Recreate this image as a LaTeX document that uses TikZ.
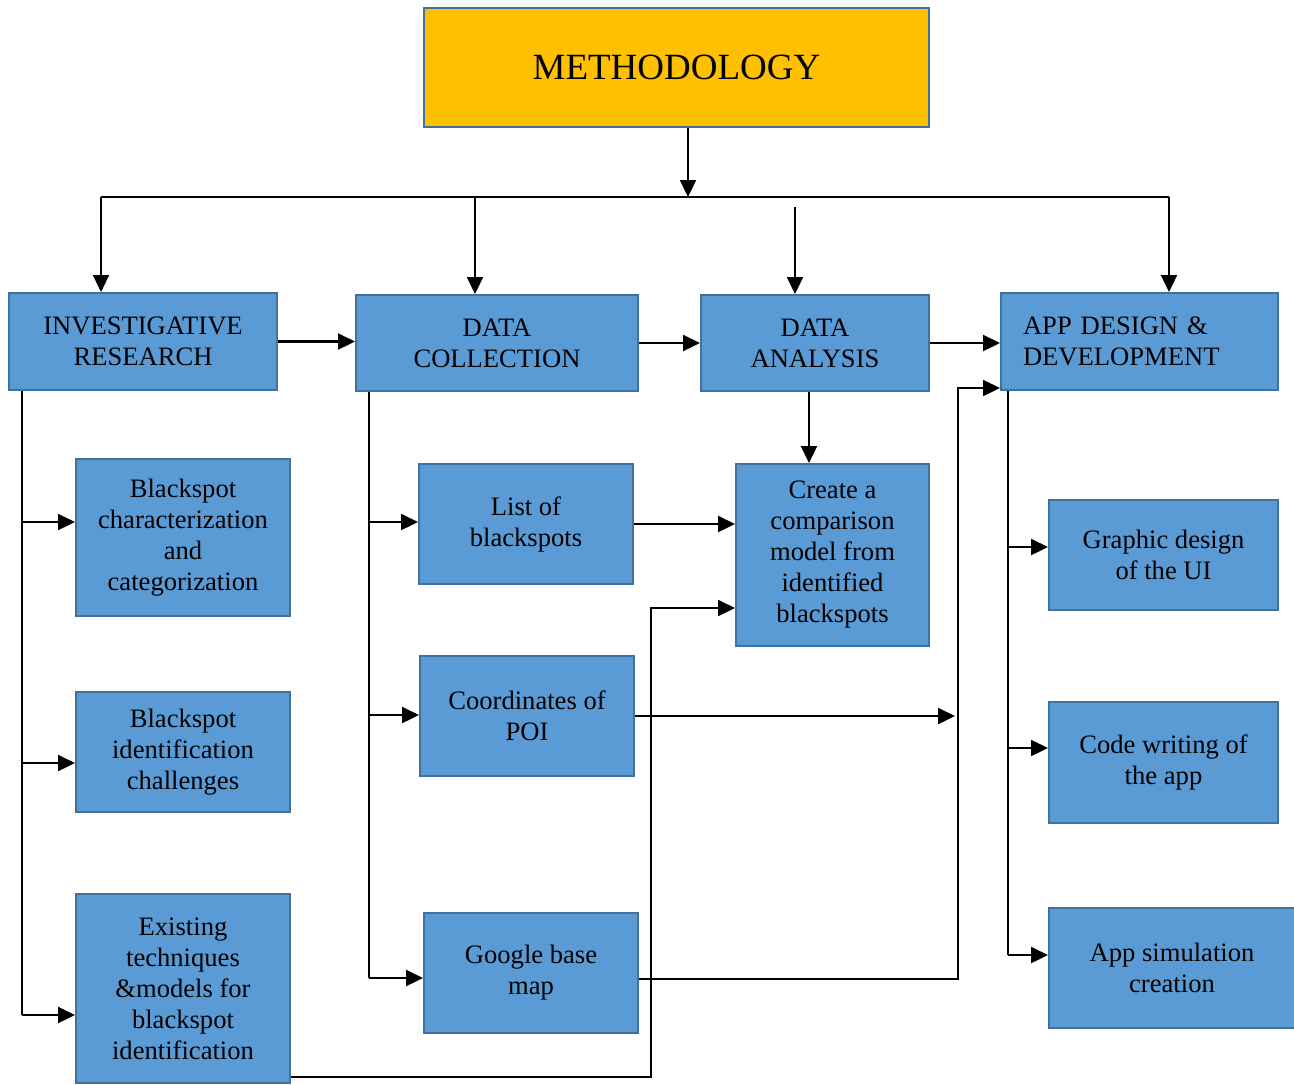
\documentclass[tikz,border=0pt]{standalone}
\usepackage{fontspec}
\setmainfont{Liberation Serif}
\usetikzlibrary{arrows.meta,calc}
\definecolor{boxfill}{HTML}{5B9BD5}
\definecolor{boxline}{HTML}{41719C}
\definecolor{methfill}{HTML}{FFC000}
\begin{document}
\begin{tikzpicture}[x=0.5pt,y=-0.5pt,
 box/.style={draw=boxline, fill=boxfill, line width=1pt, align=center, inner sep=0pt,
   font=\fontsize{13.3}{15.5}\selectfont, anchor=north west},
 arr/.style={line width=1.1pt, -{Triangle[length=8.5pt,width=8pt]}},
 spine/.style={line width=0.55pt},
 hub/.style={line width=0.75pt}]
\useasboundingbox (0,0) rectangle (1294,1084);

% top
\node[box, fill=methfill, minimum width=252.5pt, minimum height=59.5pt,
  font=\fontsize{18.5}{22}\selectfont] (M) at (423,7) {METHODOLOGY};

% level 1
\node[box, minimum width=134pt, minimum height=48.5pt] (IR) at (8,292) {INVESTIGATIVE\\RESEARCH};
\node[box, minimum width=141pt, minimum height=48pt] (DC) at (355,294) {DATA\\COLLECTION};
\node[box, minimum width=114pt, minimum height=48pt] (DA) at (700,294) {DATA\\ANALYSIS};
\node[box, align=left, inner xsep=11pt, text width=116.5pt, minimum height=48.5pt] (APP) at (1000,292) {APP DESIGN \&\\DEVELOPMENT};

% investigative column
\node[box, minimum width=107pt, minimum height=78.5pt] (BC) at (75,458) {Blackspot\\characterization\\and\\categorization};
\node[box, minimum width=107pt, minimum height=60pt] (BI) at (75,691) {Blackspot\\identification\\challenges};
\node[box, minimum width=107pt, minimum height=94.5pt] (ET) at (75,893) {Existing\\techniques\\\&models for\\blackspot\\identification};

% data collection column
\node[box, minimum width=107pt, minimum height=60pt] (LB) at (418,463) {List of\\blackspots};
\node[box, minimum width=107pt, minimum height=60pt] (CP) at (419,655) {Coordinates of\\POI};
\node[box, minimum width=107pt, minimum height=60pt] (GM) at (423,912) {Google base\\map};

% data analysis
\node[box, minimum width=96.5pt, minimum height=91pt] (CM) at (735,463) {Create a\\comparison\\model from\\identified\\blackspots};

% app column
\node[box, minimum width=114.5pt, minimum height=55pt] (GD) at (1048,499) {Graphic design\\of the UI};
\node[box, minimum width=114.5pt, minimum height=60.5pt] (CW) at (1048,701) {Code writing of\\the app};
\node[box, minimum width=123pt, minimum height=60pt] (AS) at (1048,907) {App simulation\\creation};

% hub
\coordinate (h0) at (688,197);
\coordinate (hL) at (101,197);
\coordinate (hR) at (1169,197);
\coordinate (hDC) at (475,197);
\coordinate (hDA) at (795,207);
\draw[arr] (M.south -| h0) -- (h0);
\draw[hub] (hL) -- (hR);
\draw[arr] (hL) -- (hL |- IR.north);
\draw[arr] (hDC) -- (hDC |- DC.north);
\draw[arr] (hDA) -- (hDA |- DA.north);
\draw[arr] (hR) -- (hR |- APP.north);

% level 1 chain
\draw[arr] (IR.east) -- (IR.east -| DC.west);
\draw[arr] (DC.east) -- (DC.east -| DA.west);
\draw[arr] (DA.east) -- (DA.east -| APP.west);

% spine 1
\coordinate (a1) at (22,522);
\coordinate (a2) at (22,763);
\coordinate (a3) at (22,1015);
\draw[spine] (IR.south -| a1) -- (a3);
\draw[arr] (a1) -- (a1 -| BC.west);
\draw[arr] (a2) -- (a2 -| BI.west);
\draw[arr] (a3) -- (a3 -| ET.west);

% spine 2
\coordinate (b1) at (369,522);
\coordinate (b2) at (369,715);
\coordinate (b3) at (369,978);
\draw[spine] (DC.south -| b1) -- (b3);
\draw[arr] (b1) -- (b1 -| LB.west);
\draw[arr] (b2) -- (b2 -| CP.west);
\draw[arr] (b3) -- (b3 -| GM.west);

% spine 3
\coordinate (c1) at (1008,547);
\coordinate (c2) at (1008,748);
\coordinate (c3) at (1008,955);
\draw[spine] (APP.south -| c1) -- (c3);
\draw[arr] (c1) -- (c1 -| GD.west);
\draw[arr] (c2) -- (c2 -| CW.west);
\draw[arr] (c3) -- (c3 -| AS.west);

% analysis connectors
\coordinate (d1) at (809,390);
\draw[arr] (DA.south -| d1) -- (d1 |- CM.north);
\draw[arr] (LB.east) -- (LB.east -| CM.west);
\coordinate (e1) at (651,608);
\draw[arr] ([yshift=3.5pt]ET.south east) -| (e1) -- (e1 -| CM.west);
\coordinate (g1) at (958,715);
\coordinate (g2) at (958,388);
\draw[arr, shorten >=1.5pt] (CP.east) -- (CP.east -| g1);
\draw[arr] ([yshift=-3pt]GM.east) -| (g2) -- (g2 -| APP.west);
\end{tikzpicture}
\end{document}
